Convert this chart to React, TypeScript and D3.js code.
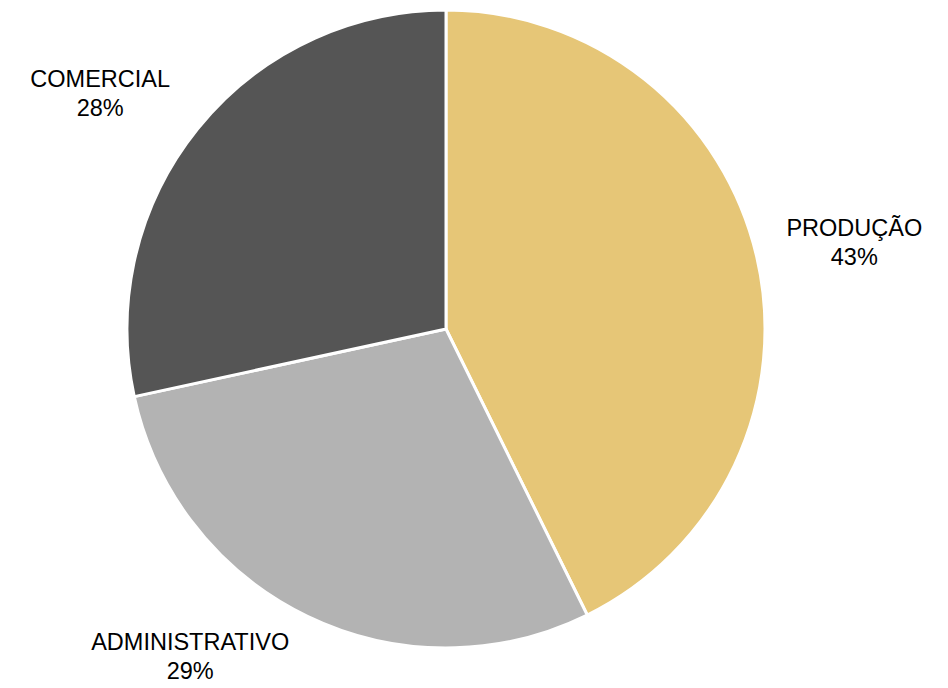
import React from 'react'
import * as d3 from 'd3';

// slice data (share of total, %)
const categories = ['PRODUÇÃO', 'ADMINISTRATIVO', 'COMERCIAL'];
const shares = [42.7, 28.9, 28.4];
const percentLabels = ['43%', '29%', '28%'];
const colors = ['#E6C677', '#B3B3B3', '#555555'];

// layout only: nudge of the label angle around the pie (degrees)
const labelAngleNudge = [1.4, 12.1, -4.9];

const width = 948;
const height = 688;
const cx = 446;
const cy = 329;
const radius = 319;
const labelRadius = 417;

const App = () => {
  const pieGenerator = d3.pie<number>()
    .sort(null)
    .value((d) => d);

  const arcGenerator = d3.arc<d3.PieArcDatum<number>>()
    .innerRadius(0)
    .outerRadius(radius);

  const arcs = pieGenerator(shares);

  return (
    <svg width={width} height={height} style={{ position: 'absolute', left: 0, top: 0 }}
      fontFamily='"Liberation Sans", Arial, sans-serif'>
      <g transform={`translate(${cx}, ${cy})`}>
        {arcs.map((a, i) => (
          <path key={categories[i]} d={arcGenerator(a) || ''} fill={colors[i]}
            stroke='#fff' strokeWidth={3} strokeLinejoin='round' />
        ))}
        {arcs.map((a, i) => {
          const mid = (a.startAngle + a.endAngle) / 2 + (labelAngleNudge[i] * Math.PI) / 180;
          const x = Math.sin(mid) * labelRadius;
          const y = -Math.cos(mid) * labelRadius;
          return (
            <text key={'l' + i} textAnchor='middle' fontSize={23.5} fill='#000'
              transform={`translate(${x}, ${y})`}>
              <tspan x={0} y={-8.5}>{categories[i]}</tspan>
              <tspan x={0} y={20.5}>{percentLabels[i]}</tspan>
            </text>
          );
        })}
      </g>
    </svg>
  )
}

export default App
